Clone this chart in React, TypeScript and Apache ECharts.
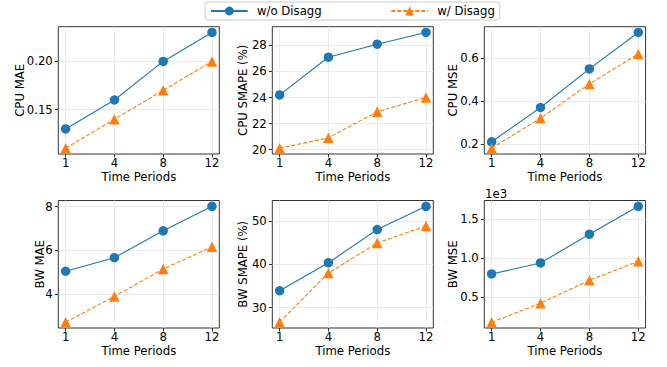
import React, { useEffect, useRef } from 'react';
import * as echarts from 'echarts';

const periods = ['1', '4', '8', '12'];
const seriesNames = ['w/o Disagg', 'w/ Disagg'];

const cpuMaeWo = [0.13, 0.16, 0.2, 0.23];
const cpuMaeW = [0.11, 0.14, 0.17, 0.2];
const cpuSmapeWo = [24.2, 27.1, 28.1, 29.0];
const cpuSmapeW = [20.1, 20.9, 22.9, 24.0];
const cpuMseWo = [0.21, 0.37, 0.55, 0.72];
const cpuMseW = [0.18, 0.32, 0.48, 0.62];
const bwMaeWo = [5.05, 5.67, 6.9, 8.02];
const bwMaeW = [2.72, 3.9, 5.15, 6.17];
const bwSmapeWo = [33.9, 40.4, 48.1, 53.5];
const bwSmapeW = [26.6, 38.0, 45.0, 48.9];
const bwMseWo = [796, 938, 1310, 1670];
const bwMseW = [173, 418, 714, 959];

const cpuMaeTicks = [0.15, 0.2];
const cpuSmapeTicks = [20, 22, 24, 26, 28];
const cpuMseTicks = [0.2, 0.4, 0.6];
const bwMaeTicks = [4, 6, 8];
const bwSmapeTicks = [30, 40, 50];
const bwMseTicks = [500, 1000, 1500];

const FONT = 'DejaVu Sans';
const FS = 11.7;
const BLUE = '#1f77b4';
const ORANGE = '#ff7f0e';

const panels = [
  { label: 'CPU MAE', wo: cpuMaeWo, w: cpuMaeW, ticks: cpuMaeTicks, fmt: (v: number) => v.toFixed(2) },
  { label: 'CPU SMAPE (%)', wo: cpuSmapeWo, w: cpuSmapeW, ticks: cpuSmapeTicks, fmt: (v: number) => v.toFixed(0) },
  { label: 'CPU MSE', wo: cpuMseWo, w: cpuMseW, ticks: cpuMseTicks, fmt: (v: number) => v.toFixed(1) },
  { label: 'BW MAE', wo: bwMaeWo, w: bwMaeW, ticks: bwMaeTicks, fmt: (v: number) => v.toFixed(0) },
  { label: 'BW SMAPE (%)', wo: bwSmapeWo, w: bwSmapeW, ticks: bwSmapeTicks, fmt: (v: number) => v.toFixed(0) },
  { label: 'BW MSE', wo: bwMseWo, w: bwMseW, ticks: bwMseTicks, fmt: (v: number) => (v / 1000).toFixed(1) },
];

const layout = [
  { left: 58.3, top: 26.7, width: 161, height: 127.3, nameGap: 32.7 },
  { left: 272.3, top: 26.7, width: 161, height: 127.3, nameGap: 22.9 },
  { left: 484.3, top: 26.7, width: 161.3, height: 127.3, nameGap: 25.4 },
  { left: 58.3, top: 200.5, width: 161, height: 127.5, nameGap: 12.4 },
  { left: 272.3, top: 200.5, width: 161, height: 127.5, nameGap: 22.9 },
  { left: 484.3, top: 200.5, width: 161.3, height: 127.5, nameGap: 25.4 },
];

const textStyle = { color: '#000', fontFamily: FONT, fontSize: FS };

export default function App() {
  const ref = useRef<HTMLDivElement>(null);
  useEffect(() => {
    if (!ref.current) return;
    const chart = echarts.init(ref.current, null, { renderer: 'svg' });
    const xIdx = periods.map((_, i) => i);

    const grid = layout.map((l) => ({
      left: l.left,
      top: l.top,
      width: l.width,
      height: l.height,
      show: true,
      borderColor: '#000',
      borderWidth: 0.8,
      backgroundColor: 'transparent',
      containLabel: false,
      outerBoundsMode: 'none',
    }));

    const xAxis = panels.map((p, i) => ({
      type: 'value',
      gridIndex: i,
      min: -0.15,
      max: periods.length - 1 + 0.15,
      axisLine: { show: false, onZero: false },
      axisTick: { show: true, customValues: xIdx, length: 3.5, lineStyle: { color: '#000', width: 0.8 } },
      axisLabel: { customValues: xIdx, formatter: (v: number) => periods[Math.round(v)], margin: 2.5, ...textStyle },
      splitLine: { show: true, lineStyle: { color: '#e6e6e6', width: 0.8 } },
      name: 'Time Periods',
      nameLocation: 'middle',
      nameGap: 16.8,
      nameMoveOverlap: false,
      nameTextStyle: textStyle,
    }));

    const yAxis = panels.map((p, i) => {
      const all = [...p.wo, ...p.w];
      const lo = Math.min(...all);
      const hi = Math.max(...all);
      const pad = (hi - lo) * 0.05;
      return {
        type: 'value',
        gridIndex: i,
        min: lo - pad,
        max: hi + pad,
        axisLine: { show: false, onZero: false },
        axisTick: { show: true, customValues: p.ticks, length: 3.5, lineStyle: { color: '#000', width: 0.8 } },
        axisLabel: { customValues: p.ticks, formatter: (v: number) => p.fmt(v), margin: 5.5, ...textStyle },
        splitLine: { show: true, lineStyle: { color: '#e6e6e6', width: 0.8 } },
        name: p.label,
        nameLocation: 'middle',
        nameGap: layout[i].nameGap,
        nameMoveOverlap: false,
        nameTextStyle: textStyle,
      };
    });

    const series: any[] = [];
    panels.forEach((p, i) => {
      series.push({
        type: 'line',
        name: seriesNames[0],
        xAxisIndex: i,
        yAxisIndex: i,
        data: p.wo.map((v, k) => [k, v]),
        symbol: 'circle',
        symbolSize: 9.5,
        lineStyle: { color: BLUE, width: 1.1, type: 'solid' },
        itemStyle: { color: BLUE },
        z: 2,
      });
      series.push({
        type: 'line',
        name: seriesNames[1],
        xAxisIndex: i,
        yAxisIndex: i,
        data: p.w.map((v, k) => [k, v]),
        symbol: 'triangle',
        symbolSize: 10.5,
        lineStyle: { color: ORANGE, width: 1.1, type: [4, 2] },
        itemStyle: { color: ORANGE },
        z: 3,
      });
    });

    chart.setOption({
      animation: false,
      backgroundColor: '#fff',
      textStyle: { fontFamily: FONT },
      legend: {
        data: seriesNames,
        left: 205,
        top: 2,
        padding: [3, 5, 3, 5],
        itemGap: 68.6,
        itemWidth: 36.7,
        itemHeight: 11,
        borderColor: '#cccccc',
        borderWidth: 1,
        borderRadius: 3,
        backgroundColor: '#fff',
        textStyle: { ...textStyle, padding: [0, 0, 0, 4.3] },
      },
      grid,
      xAxis,
      yAxis,
      series,
      graphic: [
        {
          type: 'text',
          left: 485,
          top: 188.4,
          style: { text: '1e3', fill: '#000', font: `${FS}px "${FONT}"` },
        },
      ],
    });
    return () => chart.dispose();
  }, []);
  return (
    <div
      ref={ref}
      style={{ position: 'fixed', left: 0, top: 0, width: 667, height: 367, background: '#fff' }}
    />
  );
}
